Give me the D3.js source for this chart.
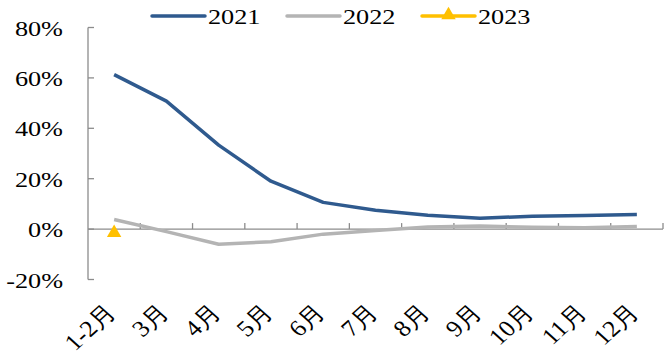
<!DOCTYPE html>
<html>
<head>
<meta charset="utf-8">
<script src="https://cdn.jsdelivr.net/npm/d3@7"></script>
<style>
  body { margin: 0; background: #fff; }
</style>
</head>
<body>
<svg id="chart" width="664" height="358" font-family="Liberation Serif, Times New Roman, serif"></svg>
<script>
  // categories and series (growth rates, %)
  var months = ['1-2月', '3月', '4月', '5月', '6月', '7月', '8月', '9月', '10月', '11月', '12月'];
  var s2021 = [61.3, 50.8, 33.3, 19.0, 10.6, 7.5, 5.5, 4.3, 5.1, 5.4, 5.8];
  var s2022 = [3.8, -1.0, -6.0, -5.0, -2.0, -0.6, 0.8, 1.2, 0.7, 0.5, 1.0];
  var s2023 = [-1.5];
  var yTicks = [-20, 0, 20, 40, 60, 80];

  var series = [
    { name: '2021', values: s2021, color: '#2F5A8E' },
    { name: '2022', values: s2022, color: '#B4B4B4' },
    { name: '2023', values: s2023, color: '#FFC000', marker: true }
  ];

  var svg = d3.select('#chart');
  var axisColor = '#8C8C8C';

  var x = d3.scaleBand().domain(months).range([88, 663]);
  var y = d3.scaleLinear().domain([-20, 80]).range([279.5, 27.5]);
  var cx = function(i) { return x(months[i]) + x.bandwidth() / 2; };

  // y axis, ticks pointing inward
  svg.append('line')
    .attr('x1', 88).attr('x2', 88)
    .attr('y1', y(80)).attr('y2', y(-20))
    .attr('stroke', axisColor).attr('stroke-width', 1.3);

  svg.selectAll('.ytick').data(yTicks).enter().append('line')
    .attr('class', 'ytick')
    .attr('x1', 88).attr('x2', 94)
    .attr('y1', function(d) { return y(d); })
    .attr('y2', function(d) { return y(d); })
    .attr('stroke', axisColor).attr('stroke-width', 1.3);

  svg.selectAll('.ylabel').data(yTicks).enter().append('text')
    .attr('class', 'ylabel')
    .attr('text-anchor', 'end')
    .attr('dominant-baseline', 'central')
    .attr('font-size', '21px')
    .attr('transform', function(d) { return 'translate(63,' + (y(d) + 1) + ') scale(1.25,1)'; })
    .text(function(d) { return d + '%'; });

  // x axis at zero with ticks between categories
  svg.append('line')
    .attr('x1', 88).attr('x2', 663)
    .attr('y1', y(0)).attr('y2', y(0))
    .attr('stroke', axisColor).attr('stroke-width', 1.3);

  svg.selectAll('.xtick').data(months).enter().append('line')
    .attr('class', 'xtick')
    .attr('x1', function(d) { return x(d) + x.bandwidth(); })
    .attr('x2', function(d) { return x(d) + x.bandwidth(); })
    .attr('y1', y(0)).attr('y2', y(0) - 6)
    .attr('stroke', axisColor).attr('stroke-width', 1.3);

  // rotated labels, slightly stretched horizontally like the rest of the text
  svg.selectAll('.xlabel').data(months).enter().append('text')
    .attr('class', 'xlabel')
    .attr('text-anchor', 'end')
    .attr('font-size', '23px')
    .attr('transform', function(d, i) {
      return 'translate(' + (cx(i) + 3) + ',314) scale(1.12,1) rotate(-45)';
    })
    .text(function(d) { return d; });

  // lines
  var line = d3.line()
    .x(function(d, i) { return cx(i); })
    .y(function(d) { return y(d); });

  series.forEach(function(s) {
    if (s.values.length > 1) {
      svg.append('path')
        .datum(s.values)
        .attr('fill', 'none')
        .attr('stroke', s.color)
        .attr('stroke-width', 3.5)
        .attr('stroke-linejoin', 'round')
        .attr('d', line);
    }
    if (s.marker) {
      svg.selectAll('.mk' + s.name).data(s.values).enter().append('path')
        .attr('d', d3.symbol().type(d3.symbolTriangle).size(90))
        .attr('transform', function(d, i) { return 'translate(' + cx(i) + ',' + y(d) + ')'; })
        .attr('fill', s.color);
    }
  });

  // legend
  var legendX = [152, 287, 422];
  var legend = svg.selectAll('.legend').data(series).enter().append('g')
    .attr('class', 'legend')
    .attr('transform', function(d, i) { return 'translate(' + legendX[i] + ',16)'; });

  legend.append('line')
    .attr('x1', 0).attr('x2', 53)
    .attr('stroke', function(d) { return d.color; })
    .attr('stroke-width', 3.5)
    .attr('stroke-linecap', 'round');

  legend.filter(function(d) { return d.marker; }).append('path')
    .attr('d', d3.symbol().type(d3.symbolTriangle).size(90))
    .attr('transform', 'translate(26.5,-1)')
    .attr('fill', function(d) { return d.color; });

  legend.append('text')
    .attr('dominant-baseline', 'central')
    .attr('font-size', '21px')
    .attr('transform', 'translate(56,1) scale(1.25,1)')
    .text(function(d) { return d.name; });
</script>
</body>
</html>
